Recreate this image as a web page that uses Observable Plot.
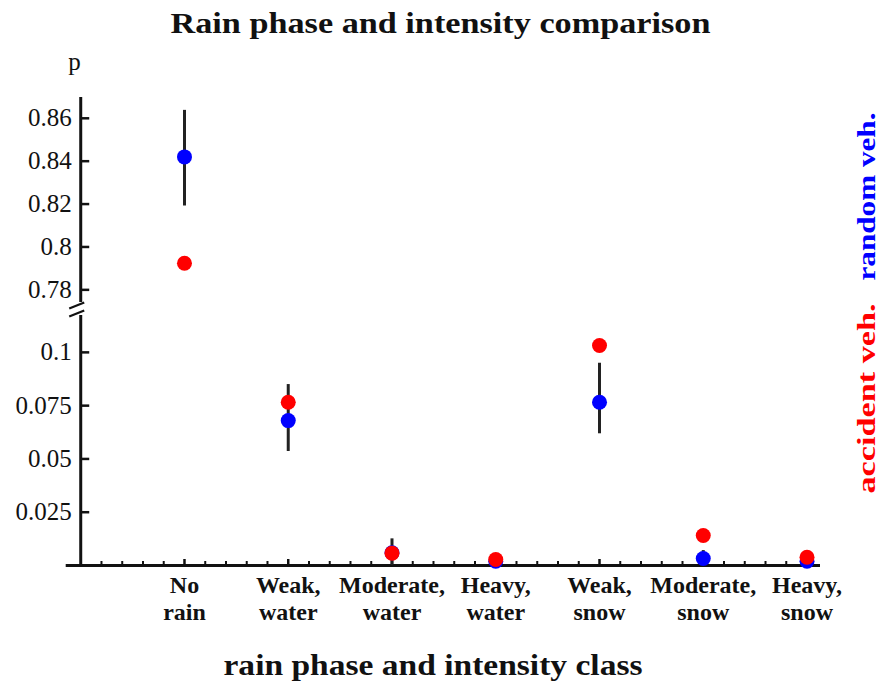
<!DOCTYPE html>
<html>
<head>
<meta charset="utf-8">
<script src="https://cdn.jsdelivr.net/npm/d3@7"></script>
<script src="https://cdn.jsdelivr.net/npm/@observablehq/plot@0.6"></script>
<style>
  html, body { margin: 0; padding: 0; background: #fff; }
  #chart svg { display: block; }
</style>
</head>
<body>
<div id="chart"></div>
<script>
// ---- data ----
const categories = ["No\nrain", "Weak,\nwater", "Moderate,\nwater", "Heavy,\nwater", "Weak,\nsnow", "Moderate,\nsnow", "Heavy,\nsnow"];
const randomVeh   = [0.842, 0.068, 0.006, 0.002, 0.0766, 0.0033, 0.002];
const randomLow   = [0.8191, 0.0535, 0.0, 0.0, 0.0618, 0.0, 0.0];
const randomHigh  = [0.8637, 0.0849, 0.0125, 0.003, 0.0949, 0.007, 0.003];
const accidentVeh = [0.7924, 0.0766, 0.0058, 0.0028, 0.1032, 0.0141, 0.0039];
const yTicksUpper = [0.78, 0.8, 0.82, 0.84, 0.86];
const yTicksLower = [0.025, 0.05, 0.075, 0.1];
const xMinorTicks = d3.range(1, 36).map(k => k / 5).filter(v => Math.abs(v - Math.round(v)) > 1e-9);
const xMajorTicks = [1, 2, 3, 4, 5, 6, 7];
const breakLow = 0.1173, breakHigh = 0.7741, yTop = 0.8697;
const xLow = -0.14, xHigh = 7.13;

const title = "Rain phase and intensity comparison";
const xTitle = "rain phase and intensity class";
const yTitle = "p";
const seriesRandom = "random veh.";
const seriesAccident = "accident veh.";

const rows = categories.map((c, i) => ({
  i: i + 1, cat: c,
  random: randomVeh[i], lo: randomLow[i], hi: randomHigh[i],
  accident: accidentVeh[i]
}));

// small slanted stroke used for the axis-break marks
const slash = {draw(context) { context.moveTo(-7.5, 3); context.lineTo(7.5, -3); }};

const serif = "'Liberation Serif', 'Times New Roman', serif";

const chart = Plot.plot({
  width: 882,
  height: 684,
  marginLeft: 65, marginRight: 62, marginTop: 97, marginBottom: 119,
  style: {fontFamily: serif, background: "#fff", color: "#111"},
  x: {type: "linear", domain: [xLow, xHigh], range: [65.7, 820], axis: null},
  y: {type: "linear", domain: [0, breakLow, breakHigh, yTop], range: [565, 315, 302, 97], axis: null},
  marks: [
    // axes lines
    Plot.ruleY([0], {x1: xLow, x2: xHigh, stroke: "#111", strokeWidth: 3}),
    Plot.ruleX([0], {y1: 0, y2: breakLow, stroke: "#111", strokeWidth: 3}),
    Plot.ruleX([0], {y1: breakHigh, y2: yTop, stroke: "#111", strokeWidth: 3}),
    // axis break marks
    Plot.dot([breakLow], {x: 0, y: d => d, dx: -4, dy: -2, symbol: slash, stroke: "#111", strokeWidth: 2.2, fill: "none"}),
    Plot.dot([breakHigh], {x: 0, y: d => d, dx: -4, dy: 3, symbol: slash, stroke: "#111", strokeWidth: 2.2, fill: "none"}),
    // y ticks (inward)
    Plot.ruleY(yTicksUpper.concat(yTicksLower), {y: d => d, x1: 0, x2: 0, insetRight: -9, stroke: "#111", strokeWidth: 2.5}),
    Plot.text(yTicksUpper.concat(yTicksLower), {x: 0, y: d => d, text: d => String(d), textAnchor: "end", dx: -9, fontSize: 25, fontFamily: serif, fill: "#111"}),
    // x ticks (inward)
    Plot.ruleX(xMinorTicks, {x: d => d, y1: 0, y2: 0, insetTop: -4, stroke: "#111", strokeWidth: 2}),
    Plot.ruleX(xMajorTicks, {x: d => d, y1: 0, y2: 0, insetTop: -6, stroke: "#111", strokeWidth: 2.5}),
    // x category labels
    Plot.text(rows, {x: "i", y: 0, text: "cat", lineAnchor: "top", dy: 9, fontSize: 24, fontWeight: "bold", lineHeight: 1.1, fill: "#111"}),
    // error bars
    Plot.ruleX(rows, {x: "i", y1: "lo", y2: "hi", stroke: "#222", strokeWidth: 3}),
    // points
    Plot.dot(rows, {x: "i", y: "random", r: 7.5, fill: "#0000ff", stroke: "none"}),
    Plot.dot(rows, {x: "i", y: "accident", r: 7.5, fill: "#ff0000", stroke: "none"}),
    // titles
    Plot.text([title], {frameAnchor: "top", text: d => d, textAnchor: "middle", lineAnchor: "middle", dx: -2.5, dy: -73.6, fontSize: 29, fontWeight: "bold", fill: "#111"}),
    Plot.text([yTitle], {frameAnchor: "top-left", text: d => d, textAnchor: "middle", lineAnchor: "middle", dx: 9, dy: -36, fontSize: 25, fontFamily: serif, fill: "#111"}),
    Plot.text([xTitle], {frameAnchor: "bottom", text: d => d, textAnchor: "middle", lineAnchor: "middle", dx: -10, dy: 100.7, fontSize: 29, fontWeight: "bold", fill: "#111"}),
    Plot.text([seriesRandom], {frameAnchor: "right", text: d => d, textAnchor: "middle", lineAnchor: "middle", dx: 46, dy: -135, rotate: -90, fontSize: 26, fontWeight: "bold", fill: "#0000ff"}),
    Plot.text([seriesAccident], {frameAnchor: "right", text: d => d, textAnchor: "middle", lineAnchor: "middle", dx: 46, dy: 67, rotate: -90, fontSize: 26, fontWeight: "bold", fill: "#ff0000"})
  ]
});

// the reference's text is set slightly wider than the font's natural width
const stretched = new Map([[title, 540], [xTitle, 419], [seriesRandom, 168], [seriesAccident, 190]]);
d3.select(chart).selectAll("text").each(function() {
  const t = this.textContent;
  if (stretched.has(t)) {
    this.setAttribute("textLength", stretched.get(t));
    this.setAttribute("lengthAdjust", "spacingAndGlyphs");
  }
});
document.getElementById("chart").appendChild(chart);
</script>
</body>
</html>
